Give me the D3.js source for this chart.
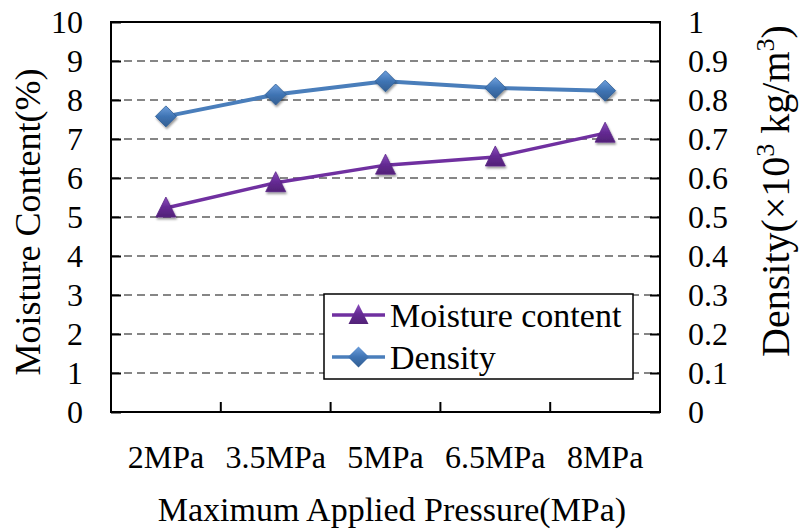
<!DOCTYPE html>
<html>
<head>
<meta charset="utf-8">
<script src="https://cdn.jsdelivr.net/npm/d3@7"></script>
<style>
    body { margin: 0; background: #fff; }
</style>
</head>
<body>
<svg id="chart" width="799" height="529" font-family="'Liberation Serif', 'Times New Roman', serif"></svg>
<script>
// values
const pressures = ['2MPa', '3.5MPa', '5MPa', '6.5MPa', '8MPa'];
const moisture = [5.23, 5.88, 6.33, 6.54, 7.15];
const density = [0.758, 0.814, 0.848, 0.831, 0.824];
const leftTicks = [0, 1, 2, 3, 4, 5, 6, 7, 8, 9, 10];
const rightTicks = [0, 0.1, 0.2, 0.3, 0.4, 0.5, 0.6, 0.7, 0.8, 0.9, 1];

const svg = d3.select('#chart');
const serif = "'Liberation Serif', 'Times New Roman', serif";
const plotLeft = 111, plotRight = 660, plotTop = 22, plotBottom = 412;

const x = d3.scaleBand().domain(pressures).range([plotLeft, plotRight]);
const yL = d3.scaleLinear().domain([0, 10]).range([plotBottom, plotTop]);
const yR = d3.scaleLinear().domain([0, 1]).range([plotBottom, plotTop]);

const defs = svg.append('defs');
function grad(id, c1, c2) {
    const g = defs.append('linearGradient').attr('id', id)
        .attr('x1', 0).attr('y1', 0).attr('x2', 0).attr('y2', 1);
    g.append('stop').attr('offset', '0%').attr('stop-color', c1);
    g.append('stop').attr('offset', '50%').attr('stop-color', c2);
    g.append('stop').attr('offset', '100%').attr('stop-color', d3.color(c2).darker(0.6));
}
grad('gBlue', '#6e9fdc', '#3f74b4');
grad('gPurple', '#8c4fbf', '#652a94');
defs.append('filter').attr('id', 'shadow')
    .attr('x', '-50%').attr('y', '-50%').attr('width', '200%').attr('height', '200%')
    .append('feDropShadow')
    .attr('dx', 1).attr('dy', 2).attr('stdDeviation', 1.2)
    .attr('flood-color', '#000').attr('flood-opacity', 0.4);

// gridlines
svg.append('g')
    .selectAll('line')
    .data(leftTicks.filter(d => d > 0 && d < 10))
    .enter()
    .append('line')
    .attr('x1', plotLeft).attr('x2', plotRight)
    .attr('y1', d => yL(d)).attr('y2', d => yL(d))
    .attr('stroke', '#868686')
    .attr('stroke-width', 2)
    .attr('stroke-dasharray', '8,5');

// axes
const fontSize = 32;

const axL = svg.append('g')
    .attr('transform', `translate(${plotLeft},0)`)
    .call(d3.axisLeft(yL).tickValues(leftTicks).tickSize(-10).tickPadding(28).tickFormat(d3.format('d')));

const axR = svg.append('g')
    .attr('transform', `translate(${plotRight},0)`)
    .call(d3.axisRight(yR).tickValues(rightTicks).tickSize(-10).tickPadding(28)
        .tickFormat(d => String(+d.toFixed(1))));

const axB = svg.append('g')
    .attr('transform', `translate(0,${plotBottom})`)
    .call(d3.axisBottom(x).tickSize(0).tickPadding(33));

[axL, axR, axB].forEach(a => {
    a.attr('font-family', serif).attr('font-size', fontSize);
    a.select('.domain').remove();
    a.selectAll('line').attr('stroke', '#000').attr('stroke-width', 2);
    a.selectAll('text').attr('fill', '#000');
});

// category boundary ticks on bottom axis
svg.append('g')
    .selectAll('line')
    .data(pressures.slice(1))
    .enter()
    .append('line')
    .attr('x1', d => x(d)).attr('x2', d => x(d))
    .attr('y1', plotBottom).attr('y2', plotBottom - 10)
    .attr('stroke', '#000').attr('stroke-width', 2);

// plot border
svg.append('rect')
    .attr('x', plotLeft).attr('y', plotTop)
    .attr('width', plotRight - plotLeft).attr('height', plotBottom - plotTop)
    .attr('fill', 'none').attr('stroke', '#000').attr('stroke-width', 2);

const cx = d => x(d) + x.bandwidth() / 2;
const triPath = 'M0,-11L10,9L-10,9Z';
const diaPath = 'M0,-10.5L10.5,0L0,10.5L-10.5,0Z';

// moisture series
const mData = pressures.map((p, i) => ({ p, v: moisture[i] }));
svg.append('path')
    .datum(mData)
    .attr('fill', 'none')
    .attr('stroke', '#7030a0')
    .attr('stroke-width', 3.5)
    .attr('d', d3.line().x(d => cx(d.p)).y(d => yL(d.v)));
svg.append('g')
    .selectAll('path')
    .data(mData)
    .enter()
    .append('path')
    .attr('d', triPath)
    .attr('transform', d => `translate(${cx(d.p)},${yL(d.v)})`)
    .attr('fill', 'url(#gPurple)')
    .attr('stroke', '#5a2586').attr('stroke-width', 0.8)
    .attr('filter', 'url(#shadow)');

// density series
const dData = pressures.map((p, i) => ({ p, v: density[i] }));
svg.append('path')
    .datum(dData)
    .attr('fill', 'none')
    .attr('stroke', '#4a7ebb')
    .attr('stroke-width', 4)
    .attr('d', d3.line().x(d => cx(d.p)).y(d => yR(d.v)));
svg.append('g')
    .selectAll('path')
    .data(dData)
    .enter()
    .append('path')
    .attr('d', diaPath)
    .attr('transform', d => `translate(${cx(d.p)},${yR(d.v)})`)
    .attr('fill', 'url(#gBlue)')
    .attr('stroke', '#2f5e96').attr('stroke-width', 0.8)
    .attr('filter', 'url(#shadow)');

// legend
const legend = svg.append('g').attr('transform', 'translate(324,294)');
legend.append('rect')
    .attr('width', 309).attr('height', 85)
    .attr('fill', '#fff').attr('stroke', '#000').attr('stroke-width', 1.5);
const items = [
    { name: 'Moisture content', color: '#7030a0', shape: triPath, fill: 'url(#gPurple)', y: 21 },
    { name: 'Density', color: '#4a7ebb', shape: diaPath, fill: 'url(#gBlue)', y: 63 }
];
items.forEach(it => {
    legend.append('line')
        .attr('x1', 8).attr('x2', 61).attr('y1', it.y).attr('y2', it.y)
        .attr('stroke', it.color).attr('stroke-width', 3.5);
    legend.append('path')
        .attr('d', it.shape)
        .attr('transform', `translate(34.5,${it.y})`)
        .attr('fill', it.fill);
    legend.append('text')
        .attr('x', 66).attr('y', it.y + 12)
        .attr('font-size', 34)
        .text(it.name);
});

// axis titles
svg.append('text')
    .attr('transform', 'translate(40,222) rotate(-90)')
    .attr('text-anchor', 'middle')
    .attr('font-size', 36)
    .text('Moisture Content(%)');

const rt = svg.append('text')
    .attr('transform', 'translate(789,191) rotate(-90)')
    .attr('text-anchor', 'middle')
    .attr('font-size', 40);
rt.append('tspan').text('Density(\u00d710');
rt.append('tspan').attr('dy', -15).attr('font-size', 26).text('3');
rt.append('tspan').attr('dy', 15).text(' kg/m');
rt.append('tspan').attr('dy', -15).attr('font-size', 26).text('3');
rt.append('tspan').attr('dy', 15).text(')');

svg.append('text')
    .attr('x', 392).attr('y', 521)
    .attr('text-anchor', 'middle')
    .attr('font-size', 34)
    .text('Maximum Applied Pressure(MPa)');
</script>
</body>
</html>
